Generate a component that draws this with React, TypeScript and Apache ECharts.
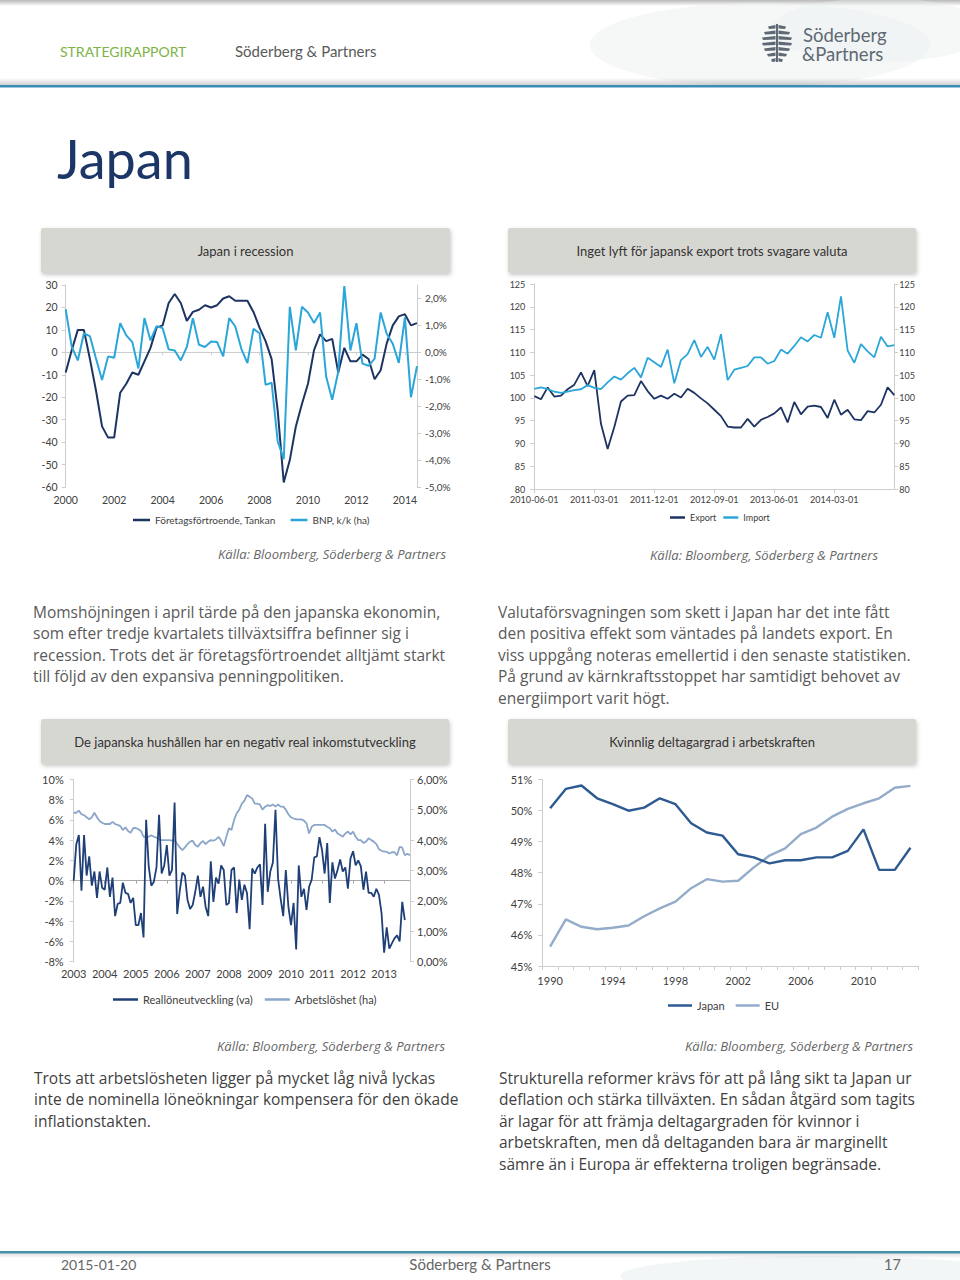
import React, { useEffect, useRef } from "react";
import * as echarts from "echarts";

// ---------- Chart 1: Japan i recession (quarterly 2000Q1 - 2014Q3)
const tankanValues = [
  -9, 1, 10, 10, -3, -17, -33, -38, -38, -18, -14, -9, -10, -4, 2, 11, 12, 22, 26, 22,
  14, 18, 19, 21, 20, 21, 24, 25, 23, 23, 23, 18, 11, 5, -3, -26, -58, -48, -33, -23,
  -14, 1, 8, 5, 6, -9, 2, -4, -4, -1, -3, -12, -8, 4, 12, 16, 17, 12, 13,
];
const bnpValues = [
  1.6, 0.2, -0.3, 0.7, 0.6, -0.23, -1.03, -0.15, -0.2, 1.08, 0.63, 0.38, -0.6, 1.27, 0.44,
  0.97, 0.9, 0.11, 0.07, -0.3, 0.2, 1.27, 0.28, 0.2, 0.4, 0.38, -0.15, 1.27, 0.96, 0.13,
  -0.4, 0.87, 0.71, -1.21, -1.13, -3.3, -3.97, 1.69, 0.07, 1.69, 1.48, 1.09, 1.48, -0.9,
  -1.76, -0.72, 2.46, 0.07, 1.08, -0.42, -0.5, -0.23, 1.48, 0.69, 0.32, -0.39, 1.3, -1.67, -0.51,
];
const quarterCategories: string[] = [];
for (let y = 2000; y <= 2014; y++)
  for (let q = 1; q <= 4; q++)
    if (quarterCategories.length < tankanValues.length) quarterCategories.push(`${y} Q${q}`);

// ---------- Chart 2: Export / Import (monthly 2010-06 ...)
const exportValues = [
  100.4, 99.7, 102.3, 100.3, 100.5, 101.9, 102.9, 105.6, 102.6, 106.1, 94.3, 88.8, 93.6,
  99.2, 100.5, 100.6, 103.7, 101.5, 99.8, 100.5, 99.8, 100.9, 100.1, 102.0, 101.1, 99.9,
  98.8, 97.4, 96.0, 93.7, 93.5, 93.5, 95.4, 93.7, 95.2, 95.8, 96.6, 97.9, 94.6, 99.1, 96.4,
  98.1, 98.3, 98.0, 95.6, 99.6, 96.3, 97.4, 95.3, 95.1, 97.1, 96.8, 98.5, 102.3, 100.6,
];
const importValues = [
  102.0, 102.3, 101.9, 101.4, 101.1, 101.4, 101.7, 101.9, 102.8, 102.2, 101.9, 103.4,
  104.7, 104.0, 105.4, 106.6, 104.5, 108.8, 107.8, 106.8, 110.6, 103.2, 108.3, 109.6,
  112.7, 109.0, 111.2, 108.4, 114.0, 103.9, 106.2, 106.6, 107.0, 108.9, 108.9, 107.5,
  108.1, 110.6, 109.7, 111.4, 113.3, 112.4, 113.8, 113.2, 118.8, 113.2, 122.3, 110.4,
  107.7, 111.8, 110.2, 108.9, 113.4, 111.3, 111.6,
];
const tradeCategories: string[] = [];
for (let i = 0; i < exportValues.length; i++) {
  const m = 5 + i;
  const y = 2010 + Math.floor(m / 12);
  tradeCategories.push(`${y}-${String((m % 12) + 1).padStart(2, "0")}-01`);
}

// ---------- Chart 3: Reallöneutveckling / Arbetslöshet (monthly 2003-01 ...)
const realWageValues = [
  0, 3.6, 4.5, -1.0, 4.5, 0.5, 2.4, -0.5, 0.9, -1.7, 0.9, -0.7, -0.9, 1.3, -1.6, 0.3, -3.5,
  -2.3, -2.2, -0.2, -1.2, -1.3, -2.2, -1.7, -4.4, -4.4, -3.2, -5.6, 6.0, 1.4, -0.5, -0.1,
  1.3, 6.5, 0.7, 1.5, 3.5, 0.5, 1.05, 7.7,
  -3.3, -1.0, 0.8, 0.5, -1.9, -2.8, -2.4, -1.1, 0.5, -1.6, -0.6, -2.6, -3.5, 1.9, -2.1,
  0.3, -0.3, 1.5, 1.05, -2.4, -2.2, 1.05, 1.3, -3.2, 0.1, -1.9, -0.4, -1.25, -4.8, 1.2,
  0.7, 1.3, 1.6, -2.4, 5.6, -1.1, 0.9, 1.8, 7.0,
  0.2, -1.8, -3.5, 1.05, -2.6, -4.4, -2.2, -6.8, 1.5, -1.6, -0.8, -2.9, -0.6, 0.1, 2.3,
  2.4, 4.3, 3.0, 0.7, 3.7, -2.2, 1.8, 0.2, 1.05, 2.1, 0.9, 1.3, -0.8, 2.2, 2.9, 1.5, 2.0,
  1.4, -0.9, 0.9, -1.2, -1.2, -1.6, -0.8, -1.4, -3.2, -7.1, -4.6, -6.7, -6.2, -5.7, -5.4,
  -6.0, -2.1, -3.9,
];
const unemploymentValues = [
  4.9, 4.9, 4.97, 4.85, 4.82, 4.75, 4.68, 4.75, 4.9, 4.75, 4.63, 4.57, 4.53, 4.53, 4.53,
  4.6, 4.53, 4.5, 4.46, 4.33, 4.42, 4.3, 4.24, 4.39, 4.4, 4.36, 4.3, 4.11, 4.11, 4.11,
  4.16, 4.11, 4.08, 4.02, 4.0, 4.0, 4.0, 4.0, 3.98, 4.0,
  3.87, 3.76, 3.67, 3.76, 3.87, 3.95, 3.98, 3.84, 3.78, 3.9, 3.97, 3.87, 3.95, 4.0, 3.98,
  4.02, 4.11, 3.98, 3.8, 4.11, 4.39, 4.33, 4.66, 4.88, 5.0, 5.2, 5.3, 5.48, 5.43, 5.37,
  5.2, 5.2, 5.17, 5.0, 5.1, 5.15, 5.12, 5.17, 5.1, 5.17, 5.1, 5.1,
  5.0, 4.85, 4.75, 4.71, 4.68, 4.68, 4.68, 4.64, 4.55, 4.22, 4.44, 4.5, 4.5, 4.5, 4.5,
  4.5, 4.44, 4.39, 4.28, 4.35, 4.22, 4.17, 4.11, 4.22, 4.28, 4.19, 4.28, 4.11, 4.0, 4.0,
  3.91, 3.95, 4.06, 4.0, 3.95, 3.87, 3.7, 3.65, 3.62, 3.62, 3.56, 3.6, 3.6, 3.5, 3.78,
  3.75, 3.5, 3.55, 3.5,
];
const wageCategories: string[] = [];
for (let i = 0; i < unemploymentValues.length; i++) {
  const y = 2003 + Math.floor(i / 12);
  wageCategories.push(`${y}-${String((i % 12) + 1).padStart(2, "0")}`);
}

// ---------- Chart 4: Kvinnlig deltagargrad (yearly 1990-2013)
const participationYears = [
  "1990", "1991", "1992", "1993", "1994", "1995", "1996", "1997", "1998", "1999", "2000",
  "2001", "2002", "2003", "2004", "2005", "2006", "2007", "2008", "2009", "2010", "2011",
  "2012", "2013",
];
const japanValues = [
  50.07, 50.69, 50.8, 50.39, 50.2, 49.99, 50.09, 50.39, 50.2, 49.59, 49.29, 49.19, 48.59,
  48.49, 48.3, 48.4, 48.4, 48.49, 48.49, 48.7, 49.39, 48.09, 48.09, 48.8,
];
const euValues = [
  45.62, 46.5, 46.26, 46.18, 46.23, 46.3, 46.6, 46.85, 47.07, 47.5, 47.79, 47.71, 47.74,
  48.17, 48.55, 48.78, 49.24, 49.45, 49.8, 50.05, 50.23, 50.39, 50.73, 50.79,
];

// ---------- Styling constants
const CF = 'Lato, "Open Sans", sans-serif';
const BF = '"Open Sans", Lato, sans-serif';
const LBL = "#404040";
const AXC = "#cdcdcd";
const NAVY = "#1d3463";
const LIGHTBLUE = "#2ba6d9";
const WAGE = "#1f3f77";
const UNEMP = "#8ba6c8";
const JAPAN = "#2d5a91";
const EU = "#94acca";

const pct1 = (v: number) => v.toFixed(1).replace(".", ",") + "%";
const pct2 = (v: number) => v.toFixed(2).replace(".", ",") + "%";

function labelStyle(size: number, margin: number, extra: any = {}) {
  return { color: LBL, fontSize: size, fontFamily: CF, margin, ...extra };
}
const axLine = { show: true, lineStyle: { color: AXC, width: 1 } };
const axTick = { show: true, length: 4, lineStyle: { color: AXC, width: 1 } };

function buildOption() {
  const boxes = [
    { x: 41, y: 228, w: 409, h: 45, t: "Japan i recession" },
    { x: 508, y: 228, w: 408, h: 45, t: "Inget lyft för japansk export trots svagare valuta" },
    { x: 41, y: 719, w: 408, h: 45, t: "De japanska hushållen har en negativ real inkomstutveckling" },
    { x: 508, y: 719, w: 408, h: 45, t: "Kvinnlig deltagargrad i arbetskraften" },
  ];
  const sources = [
    { x: 446, y: 554 },
    { x: 878, y: 555 },
    { x: 445, y: 1046 },
    { x: 913, y: 1046 },
  ];
  const paragraphs = [
    {
      x: 33, y: 601, c: "#5a5a5a",
      t: "Momshöjningen i april tärde på den japanska ekonomin,\nsom efter tredje kvartalets tillväxtsiffra befinner sig i\nrecession. Trots det är företagsförtroendet alltjämt starkt\ntill följd av den expansiva penningpolitiken.",
    },
    {
      x: 498, y: 601, c: "#5a5a5a",
      t: "Valutaförsvagningen som skett i Japan har det inte fått\nden positiva effekt som väntades på landets export. En\nviss uppgång noteras emellertid i den senaste statistiken.\nPå grund av kärnkraftsstoppet har samtidigt behovet av\nenergiimport varit högt.",
    },
    {
      x: 34, y: 1067, c: "#3f3f3f",
      t: "Trots att arbetslösheten ligger på mycket låg nivå lyckas\ninte de nominella löneökningar kompensera för den ökade\ninflationstakten.",
    },
    {
      x: 499, y: 1067, c: "#3f3f3f",
      t: "Strukturella reformer krävs för att på lång sikt ta Japan ur\ndeflation och stärka tillväxten. En sådan åtgärd som tagits\när lagar för att främja deltagargraden för kvinnor i\narbetskraften, men då deltaganden bara är marginellt\nsämre än i Europa är effekterna troligen begränsade.",
    },
  ];

  // logo emblem made of mirrored wedges
  const logoParts: any[] = [];
  const cx = 777;
  const rows = [
    { y: 25, w: 9 }, { y: 30.5, w: 13 }, { y: 36, w: 15 }, { y: 41.5, w: 15 },
    { y: 47, w: 13 }, { y: 52.5, w: 10 }, { y: 58, w: 6 },
  ];
  rows.forEach((r) => {
    logoParts.push({
      type: "polygon",
      shape: { points: [[cx - 1.5, r.y], [cx - r.w, r.y + 1.5], [cx - r.w + 1, r.y + 4], [cx - 1.5, r.y + 3.6]] },
      style: { fill: "#5f6973" },
    });
    logoParts.push({
      type: "polygon",
      shape: { points: [[cx + 1.5, r.y], [cx + r.w, r.y + 1.5], [cx + r.w - 1, r.y + 4], [cx + 1.5, r.y + 3.6]] },
      style: { fill: "#5f6973" },
    });
  });
  logoParts.push({ type: "rect", shape: { x: cx - 1, y: 24, width: 2, height: 38 }, style: { fill: "#5f6973" } });

  const graphic: any[] = [
    // header
    {
      type: "rect", shape: { x: 0, y: 0, width: 960, height: 6 },
      style: { fill: new echarts.graphic.LinearGradient(0, 0, 0, 1, [
        { offset: 0, color: "rgba(0,0,0,0.28)" }, { offset: 1, color: "rgba(0,0,0,0)" }]) },
    },
    { type: "ellipse", shape: { cx: 760, cy: 45, rx: 170, ry: 42 }, style: { fill: "#eef1f1", opacity: 0.5 } },
    { type: "ellipse", shape: { cx: 880, cy: 30, rx: 110, ry: 32 }, style: { fill: "#e9eded", opacity: 0.4 } },
    {
      type: "rect", shape: { x: 0, y: 78, width: 960, height: 7 },
      style: { fill: new echarts.graphic.LinearGradient(0, 0, 0, 1, [
        { offset: 0, color: "rgba(0,0,0,0)" }, { offset: 1, color: "rgba(0,0,0,0.18)" }]) },
    },
    { type: "rect", shape: { x: 0, y: 85, width: 960, height: 2.5 }, style: { fill: "#3b8db6" } },
    { type: "text", x: 60, y: 51, style: { text: "STRATEGIRAPPORT", fill: "#7cb342", fontSize: 14, fontFamily: CF, verticalAlign: "middle" } },
    { type: "text", x: 235, y: 51, style: { text: "Söderberg & Partners", fill: "#595959", fontSize: 15, fontFamily: CF, verticalAlign: "middle" } },
    { type: "group", children: logoParts },
    { type: "text", x: 803, y: 34.5, style: { text: "Söderberg", fill: "#5f6973", fontSize: 18.5, fontFamily: CF, verticalAlign: "middle" } },
    { type: "text", x: 802, y: 54, style: { text: "&Partners", fill: "#5f6973", fontSize: 18.5, fontFamily: CF, verticalAlign: "middle" } },
    // title
    { type: "text", x: 57, y: 158, style: { text: "Japan", fill: "#1b3667", fontSize: 54, fontFamily: CF, verticalAlign: "middle" } },
    // footer
    { type: "ellipse", shape: { cx: 820, cy: 1276, rx: 200, ry: 20 }, style: { fill: "#e8eef0", opacity: 0.55 } },
    { type: "rect", shape: { x: 0, y: 1251, width: 960, height: 2.5 }, style: { fill: "#4592a6" } },
    {
      type: "rect", shape: { x: 0, y: 1253.5, width: 960, height: 5 },
      style: { fill: new echarts.graphic.LinearGradient(0, 0, 0, 1, [
        { offset: 0, color: "rgba(0,0,0,0.12)" }, { offset: 1, color: "rgba(0,0,0,0)" }]) },
    },
    { type: "text", x: 61, y: 1264, style: { text: "2015-01-20", fill: "#666", fontSize: 14, fontFamily: CF, verticalAlign: "middle" } },
    { type: "text", x: 480, y: 1264, style: { text: "Söderberg & Partners", fill: "#666", fontSize: 15, fontFamily: CF, align: "center", verticalAlign: "middle" } },
    { type: "text", x: 884, y: 1264, style: { text: "17", fill: "#666", fontSize: 14.5, fontFamily: CF, verticalAlign: "middle" } },
  ];
  boxes.forEach((b) => {
    graphic.push({
      type: "rect", shape: { x: b.x, y: b.y, width: b.w, height: b.h, r: 2 },
      style: { fill: "#d7d7d2", shadowBlur: 4, shadowOffsetX: 1, shadowOffsetY: 2, shadowColor: "rgba(0,0,0,0.22)" },
    });
    graphic.push({
      type: "text", x: b.x + b.w / 2, y: b.y + b.h / 2,
      style: { text: b.t, fill: "#333", fontSize: 13, fontFamily: CF, align: "center", verticalAlign: "middle" },
    });
  });
  sources.forEach((s) => {
    graphic.push({
      type: "text", x: s.x, y: s.y,
      style: { text: "Källa: Bloomberg, Söderberg & Partners", fill: "#666", fontSize: 13, fontStyle: "italic", fontFamily: BF, align: "right", verticalAlign: "middle" },
    });
  });
  paragraphs.forEach((p) => {
    graphic.push({
      type: "text", x: p.x, y: p.y,
      style: { text: p.t, fill: p.c, fontSize: 15.5, lineHeight: 21.5, fontFamily: BF, verticalAlign: "top" },
    });
  });

  const legendBase = { icon: "rect", padding: 0, selectedMode: false, itemHeight: 2.5 };

  return {
    animation: false,
    backgroundColor: "#ffffff",
    textStyle: { fontFamily: CF },
    graphic,
    grid: [
      { left: 65.7, top: 285, width: 351.3, height: 202 },
      { left: 534.3, top: 284, width: 360, height: 205 },
      { left: 73.7, top: 779.3, width: 336.3, height: 182.4 },
      { left: 542.3, top: 779.3, width: 376, height: 186.7 },
    ],
    legend: [
      { ...legendBase, data: ["Företagsförtroende, Tankan", "BNP, k/k (ha)"], left: 133, top: 515, itemWidth: 17, itemGap: 15, textStyle: { fontSize: 10, color: LBL, fontFamily: CF } },
      { ...legendBase, data: ["Export", "Import"], left: 670, top: 513, itemWidth: 15, itemGap: 7, textStyle: { fontSize: 9, color: LBL, fontFamily: CF } },
      { ...legendBase, data: ["Reallöneutveckling (va)", "Arbetslöshet (ha)"], left: 113, top: 994, itemWidth: 25, itemGap: 12, textStyle: { fontSize: 11, color: LBL, fontFamily: CF } },
      { ...legendBase, data: ["Japan", "EU"], left: 668, top: 1000, itemWidth: 24, itemGap: 11, textStyle: { fontSize: 11, color: LBL, fontFamily: CF } },
    ],
    xAxis: [
      // 0: chart 1 labels at bottom
      {
        type: "category", gridIndex: 0, data: quarterCategories, boundaryGap: false, position: "bottom",
        axisLine: { show: false, onZero: false }, axisTick: { show: false }, splitLine: { show: false },
        axisLabel: labelStyle(10.5, 7, { interval: 7, formatter: (v: string) => v.slice(0, 4) }),
      },
      // 1: chart 1 zero line
      {
        type: "category", gridIndex: 0, data: quarterCategories, boundaryGap: false, position: "top",
        axisLine: { show: true, onZero: true, lineStyle: { color: AXC } },
        axisTick: { show: true, interval: 7, inside: true, length: 3, lineStyle: { color: AXC } },
        axisLabel: { show: false }, splitLine: { show: false },
      },
      // 2: chart 2
      {
        type: "category", gridIndex: 1, data: tradeCategories, boundaryGap: false,
        axisLine: axLine,
        axisTick: { ...axTick, interval: (i: number) => i % 9 === 0 && i < 54 },
        axisLabel: labelStyle(9, 6, { interval: (i: number) => i % 9 === 0 && i < 54 }),
        splitLine: { show: false },
      },
      // 3: chart 3 labels
      {
        type: "category", gridIndex: 2, data: wageCategories, boundaryGap: false, position: "bottom",
        axisLine: { show: false, onZero: false }, axisTick: { show: false }, splitLine: { show: false },
        axisLabel: labelStyle(11, 6, { interval: 11, formatter: (v: string) => v.slice(0, 4) }),
      },
      // 4: chart 3 zero line
      {
        type: "category", gridIndex: 2, data: wageCategories, boundaryGap: false, position: "top",
        axisLine: { show: true, onZero: true, lineStyle: { color: "#a9a9a9" } },
        axisTick: { show: true, interval: 11, inside: true, length: 3, lineStyle: { color: "#a9a9a9" } },
        axisLabel: { show: false }, splitLine: { show: false },
      },
      // 5: chart 4
      {
        type: "category", gridIndex: 3, data: participationYears, boundaryGap: true,
        axisLine: axLine, axisTick: { ...axTick, interval: 0 },
        axisLabel: labelStyle(11, 9, { interval: 3 }),
        splitLine: { show: false },
      },
    ],
    yAxis: [
      { type: "value", gridIndex: 0, position: "left", min: -60, max: 30, interval: 10, axisLine: axLine, axisTick: axTick, splitLine: { show: false }, axisLabel: labelStyle(10.5, 8) },
      { type: "value", gridIndex: 0, position: "right", min: -5, max: 2.5, interval: 1, axisLine: axLine, axisTick: axTick, splitLine: { show: false }, axisLabel: labelStyle(10, 8, { formatter: pct1, showMaxLabel: false }) },
      { type: "value", gridIndex: 1, position: "left", min: 80, max: 125, interval: 5, axisLine: axLine, axisTick: axTick, splitLine: { show: false }, axisLabel: labelStyle(9, 9) },
      { type: "value", gridIndex: 1, position: "right", min: 80, max: 125, interval: 5, axisLine: axLine, axisTick: axTick, splitLine: { show: false }, axisLabel: labelStyle(9, 5) },
      { type: "value", gridIndex: 2, position: "left", min: -8, max: 10, interval: 2, axisLine: axLine, axisTick: axTick, splitLine: { show: false }, axisLabel: labelStyle(11, 10, { formatter: (v: number) => v + "%" }) },
      { type: "value", gridIndex: 2, position: "right", min: 0, max: 6, interval: 1, axisLine: axLine, axisTick: axTick, splitLine: { show: false }, axisLabel: labelStyle(11, 7, { formatter: pct2 }) },
      { type: "value", gridIndex: 3, position: "left", min: 45, max: 51, interval: 1, axisLine: axLine, axisTick: axTick, splitLine: { show: false }, axisLabel: labelStyle(11, 10, { formatter: (v: number) => v + "%" }) },
    ],
    series: [
      { type: "line", name: "Företagsförtroende, Tankan", xAxisIndex: 0, yAxisIndex: 0, data: tankanValues, symbol: "none", lineStyle: { width: 2, color: NAVY }, itemStyle: { color: NAVY } },
      { type: "line", name: "BNP, k/k (ha)", xAxisIndex: 0, yAxisIndex: 1, data: bnpValues, symbol: "none", lineStyle: { width: 2, color: LIGHTBLUE }, itemStyle: { color: LIGHTBLUE } },
      { type: "line", name: "Export", xAxisIndex: 2, yAxisIndex: 2, data: exportValues, symbol: "none", lineStyle: { width: 1.8, color: NAVY }, itemStyle: { color: NAVY } },
      { type: "line", name: "Import", xAxisIndex: 2, yAxisIndex: 3, data: importValues, symbol: "none", lineStyle: { width: 1.8, color: LIGHTBLUE }, itemStyle: { color: LIGHTBLUE } },
      { type: "line", name: "Arbetslöshet (ha)", xAxisIndex: 3, yAxisIndex: 5, data: unemploymentValues, symbol: "none", lineStyle: { width: 1.8, color: UNEMP }, itemStyle: { color: UNEMP } },
      { type: "line", name: "Reallöneutveckling (va)", xAxisIndex: 3, yAxisIndex: 4, data: realWageValues, symbol: "none", lineStyle: { width: 1.8, color: WAGE }, itemStyle: { color: WAGE } },
      { type: "line", name: "EU", xAxisIndex: 5, yAxisIndex: 6, data: euValues, symbol: "none", lineStyle: { width: 2.4, color: EU }, itemStyle: { color: EU } },
      { type: "line", name: "Japan", xAxisIndex: 5, yAxisIndex: 6, data: japanValues, symbol: "none", lineStyle: { width: 2.4, color: JAPAN }, itemStyle: { color: JAPAN } },
    ],
  };
}

export default function App() {
  const ref = useRef<HTMLDivElement>(null);
  useEffect(() => {
    if (!ref.current) return;
    const chart = echarts.init(ref.current, null, { renderer: "svg" });
    chart.setOption(buildOption() as any);
    return () => chart.dispose();
  }, []);
  return (
    <div
      ref={ref}
      style={{ position: "absolute", left: 0, top: 0, width: 960, height: 1280, background: "#fff" }}
    />
  );
}
